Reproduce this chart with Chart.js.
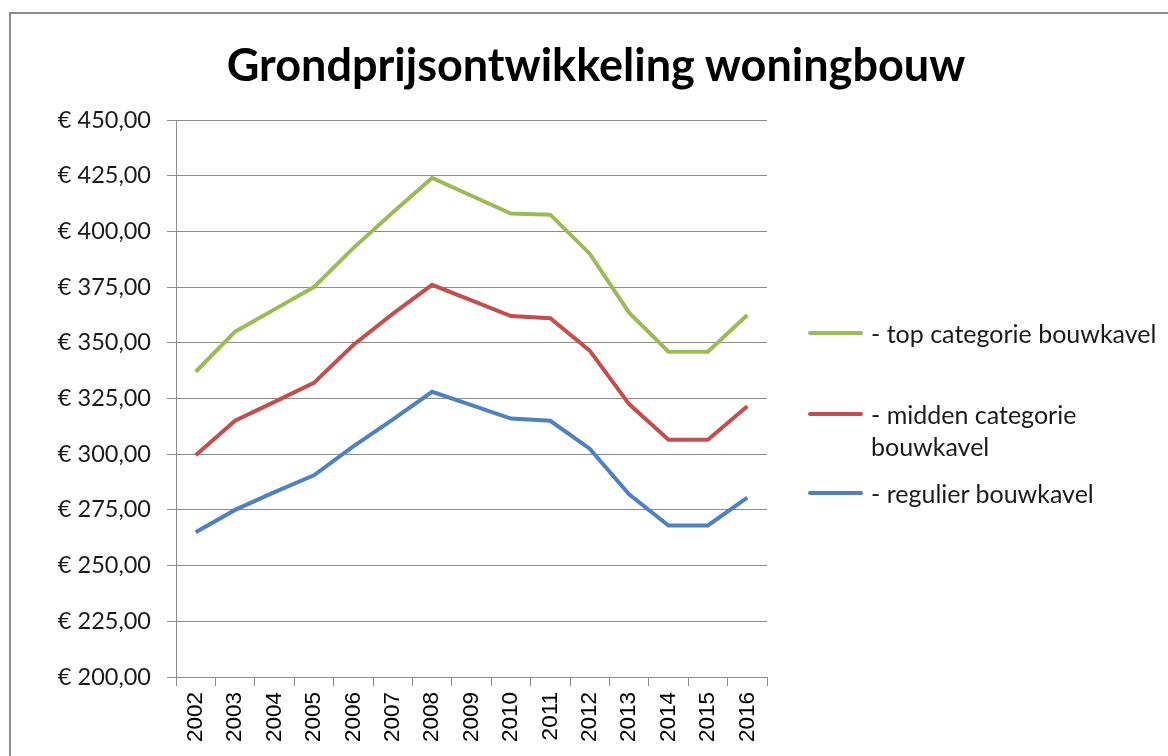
<!DOCTYPE html>
<html>
<head>
<meta charset="utf-8">
<script src="https://cdn.jsdelivr.net/npm/chart.js@4"></script>
<style>
  html, body { margin: 0; padding: 0; background: #fff; overflow: hidden; }
  body { width: 1168px; height: 756px; position: relative; }
  #frame { position: absolute; left: 9px; top: 12px; width: 1300px; height: 900px; border: 2px solid #8c8c8c; box-sizing: border-box; }
  #wrap { position: absolute; left: 12px; top: 0; width: 1168px; height: 756px; }
  #title { position: absolute; left: 0; width: 1192px; top: 36px; text-align: center; font-family: Lato, sans-serif; font-weight: bold; font-size: 45px; line-height: 56px; color: #000; }
  .leg { position: absolute; left: 808px; font-family: Lato, "Open Sans", sans-serif; font-size: 25px; line-height: 32px; color: #1a1a1a; }
  .leg .mk { position: absolute; left: 0; top: 14px; width: 55px; height: 4px; border-radius: 2px; }
  .leg .tx { position: absolute; left: 63px; width: 300px; white-space: normal; }
</style>
</head>
<body>
<div id="frame"></div>
<div id="wrap"><canvas id="c" width="1168" height="756"></canvas></div>
<div id="title"></div>
<div id="legend"></div>
<script>
const years = ['2002','2003','2004','2005','2006','2007','2008','2009','2010','2011','2012','2013','2014','2015','2016'];
const topCategorie = [337, 355, 365, 375, 392.5, 408.5, 424, 416, 408, 407.5, 390, 363.5, 346, 346, 362.5];
const middenCategorie = [299.5, 315, 323.5, 332, 349, 363, 376, 369, 362, 361, 346.5, 322.5, 306.5, 306.5, 321.5];
const regulier = [265, 275, 283, 290.5, 303.5, 315.5, 328, 322, 316, 315, 302.5, 282, 268, 268, 280.5];
const seriesLabels = ['- top categorie bouwkavel', '- midden categorie bouwkavel', '- regulier bouwkavel'];
const seriesColors = ['#9BBB59', '#C0504D', '#4F81BD'];
const yTicks = [200, 225, 250, 275, 300, 325, 350, 375, 400, 425, 450];
const titleText = 'Grondprijsontwikkeling woningbouw';

document.getElementById('title').textContent = titleText;

const seriesData = [topCategorie, middenCategorie, regulier];
const datasets = seriesData.map((d, i) => ({
  label: seriesLabels[i],
  data: d,
  borderColor: seriesColors[i],
  backgroundColor: seriesColors[i],
  borderWidth: 4,
  pointRadius: 0,
  tension: 0,
  fill: false
}));

new Chart(document.getElementById('c'), {
  type: 'line',
  data: { labels: years, datasets },
  options: {
    responsive: false,
    animation: false,
    layout: { padding: { left: 0, right: 413, top: 120, bottom: 0 } },
    plugins: {
      legend: { display: false },
      tooltip: { enabled: false },
      title: { display: false }
    },
    scales: {
      x: {
        offset: true,
        grid: { offset: true, drawOnChartArea: false, drawTicks: true, tickLength: 9, color: '#8c8c8c' },
        border: { color: '#8c8c8c', width: 1 },
        ticks: {
          autoSkip: false, maxRotation: 90, minRotation: 90, padding: 6,
          color: '#000', font: { family: 'Liberation Sans', size: 22.5 }
        },
        afterFit: (s) => { s.height = 79; }
      },
      y: {
        min: 200, max: 450,
        afterBuildTicks: (s) => { s.ticks = yTicks.map(v => ({ value: v })); },
        grid: { color: '#8c8c8c', tickLength: 9, lineWidth: 1 },
        border: { color: '#8c8c8c', width: 1 },
        ticks: {
          padding: 16, color: '#1a1a1a',
          font: { family: 'Lato', size: 23.5 },
          callback: (v) => '€ ' + Number(v).toFixed(2).replace('.', ',')
        },
        afterFit: (s) => { s.width = 164; }
      }
    }
  }
});

// HTML legend built from the series labels/colours
const legTops = [317, 398, 477];
const legend = document.getElementById('legend');
seriesLabels.forEach((lab, i) => {
  const item = document.createElement('div');
  item.className = 'leg';
  item.style.top = legTops[i] + 'px';
  item.innerHTML = '<div class="mk" style="background:' + seriesColors[i] + '"></div><div class="tx">' + lab + '</div>';
  legend.appendChild(item);
});
</script>
</body>
</html>
